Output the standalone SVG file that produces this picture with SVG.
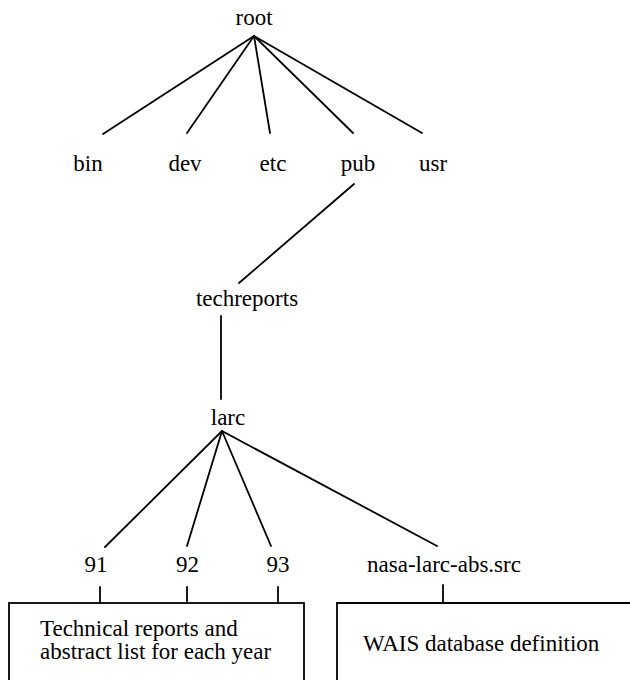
<svg xmlns="http://www.w3.org/2000/svg" width="630" height="680" viewBox="0 0 630 680">
<style>
  text { font-family: "Liberation Serif", "DejaVu Serif", "Noto Serif", serif; font-size: 23px; fill: #000; }
  .c { text-anchor: middle; }
  .ln { stroke: #000; stroke-width: 1.8; fill: none; stroke-linecap: round; }
  .box { stroke: #000; stroke-width: 1.8; fill: none; }
</style>
<rect width="630" height="680" fill="#fff"/>
<g id="connectors">
  <line class="ln" x1="254" y1="36" x2="103" y2="134"/>
  <line class="ln" x1="254" y1="36" x2="187" y2="133"/>
  <line class="ln" x1="254" y1="36" x2="270" y2="133"/>
  <line class="ln" x1="254" y1="36" x2="353" y2="133"/>
  <line class="ln" x1="254" y1="36" x2="422" y2="133"/>
  <line class="ln" x1="354" y1="184" x2="239" y2="283"/>
  <line class="ln" x1="221" y1="316" x2="221" y2="399"/>
  <line class="ln" x1="222" y1="431" x2="105" y2="547"/>
  <line class="ln" x1="222" y1="431" x2="187" y2="546"/>
  <line class="ln" x1="222" y1="431" x2="271" y2="546"/>
  <line class="ln" x1="222" y1="431" x2="437" y2="546"/>
  <line class="ln" x1="100" y1="587" x2="100" y2="603"/>
  <line class="ln" x1="187" y1="587" x2="187" y2="603"/>
  <line class="ln" x1="278" y1="587" x2="278" y2="603"/>
  <line class="ln" x1="443" y1="585" x2="443" y2="603"/>
</g>
<g font-family="Liberation Serif, DejaVu Serif, serif">
<g id="root"><text class="c" x="254" y="25">root</text></g>
<g id="bin"><text class="c" x="88" y="171">bin</text></g>
<g id="dev"><text class="c" x="185" y="171">dev</text></g>
<g id="etc"><text class="c" x="273" y="171">etc</text></g>
<g id="pub"><text class="c" x="358" y="171">pub</text></g>
<g id="usr"><text class="c" x="433" y="171">usr</text></g>
<g id="techreports"><text class="c" x="247" y="306">techreports</text></g>
<g id="larc"><text class="c" x="228" y="425">larc</text></g>
<g id="y91"><text class="c" x="96" y="572">91</text></g>
<g id="y92"><text class="c" x="187.5" y="572">92</text></g>
<g id="y93"><text class="c" x="278" y="572">93</text></g>
<g id="nasa-larc-abs"><text class="c" x="444" y="572">nasa-larc-abs.src</text></g>
<g id="reports-box">
  <rect class="box" x="9" y="603" width="295" height="100"/>
  <text x="40" y="636">Technical reports and</text>
  <text x="40" y="659">abstract list for each year</text>
</g>
<g id="wais-box">
  <path class="box" d="M337,700 V603 H640"/>
  <text x="363" y="651">WAIS database definition</text>
</g>
</g>
</svg>
